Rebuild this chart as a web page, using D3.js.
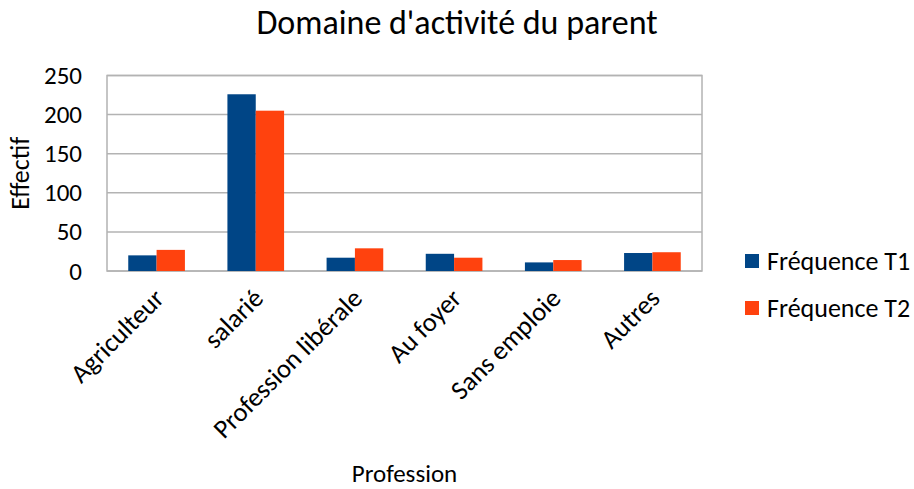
<!DOCTYPE html>
<html lang="fr">
<head>
<meta charset="UTF-8">
<title>Domaine d'activité du parent</title>
<style>
  body { margin: 0; background: #fff; }
  svg text { font-family: Carlito, Calibri, Lato, "Open Sans", sans-serif; fill: #000; }
</style>
</head>
<body>
<div id="chart"></div>
<script src="https://d3js.org/d3.v7.min.js"></script>
<script>
const categories = ["Agriculteur", "salarié", "Profession libérale", "Au foyer", "Sans emploie", "Autres"];
const seriesNames = ["Fréquence T1", "Fréquence T2"];
const t1 = [20, 226, 17, 22, 11, 23];
const t2 = [27, 205, 29, 17, 14, 24];
const yTicks = [0, 50, 100, 150, 200, 250];
const colors = ["#004586", "#ff420e"];

const width = 914, height = 489;
const plot = { left: 107, top: 75.5, right: 702, bottom: 271 };

const svg = d3.select("#chart").append("svg")
  .attr("width", width).attr("height", height);

const x = d3.scaleBand().domain(categories).range([plot.left, plot.right]).paddingInner(0).paddingOuter(0);
const y = d3.scaleLinear().domain([0, 250]).range([plot.bottom, plot.top]);
const barW = x.bandwidth() / 3.5;

// grid
svg.append("g").selectAll("line").data(yTicks).join("line")
  .attr("x1", plot.left).attr("x2", plot.right)
  .attr("y1", d => y(d)).attr("y2", d => y(d))
  .attr("stroke", "#b3b3b3").attr("stroke-width", 1.5);

svg.append("rect")
  .attr("x", plot.left).attr("y", plot.top)
  .attr("width", plot.right - plot.left).attr("height", plot.bottom - plot.top)
  .attr("fill", "none").attr("stroke", "#b3b3b3").attr("stroke-width", 1.5);

// bars
[t1, t2].forEach((vals, s) => {
  svg.append("g").selectAll("rect").data(vals).join("rect")
    .attr("x", (d, i) => x(categories[i]) + x.bandwidth() / 2 - barW + s * barW)
    .attr("y", d => y(d))
    .attr("width", barW)
    .attr("height", d => y(0) - y(d))
    .attr("fill", colors[s]);
});

// y axis labels
svg.append("g").selectAll("text").data(yTicks).join("text")
  .attr("x", 82).attr("y", d => y(d) + 8.5)
  .attr("text-anchor", "end").attr("font-size", 25)
  .text(d => d);

// x labels
svg.append("g").selectAll("text").data(categories).join("text")
  .attr("text-anchor", "end").attr("font-size", 26.5)
  .attr("transform", d => `translate(${x(d) + x.bandwidth() / 2 + 9},${plot.bottom + 29}) rotate(-45)`)
  .text(d => d);

// titles
svg.append("text").attr("x", 457).attr("y", 34).attr("text-anchor", "middle")
  .attr("font-size", 34).text("Domaine d'activité du parent");
svg.append("text").attr("x", (plot.left + plot.right) / 2).attr("y", 482)
  .attr("text-anchor", "middle").attr("font-size", 25).text("Profession");
svg.append("text").attr("transform", `translate(29,${(plot.top + plot.bottom) / 2}) rotate(-90)`)
  .attr("text-anchor", "middle").attr("font-size", 26).text("Effectif");

// legend
const leg = svg.append("g").selectAll("g").data(seriesNames).join("g")
  .attr("transform", (d, i) => `translate(745,${261 + i * 47})`);
leg.append("rect").attr("x", 0).attr("y", -7).attr("width", 14).attr("height", 14)
  .attr("fill", (d, i) => colors[i]);
leg.append("text").attr("x", 22).attr("y", 9).attr("font-size", 26).text(d => d);
</script>
</body>
</html>
